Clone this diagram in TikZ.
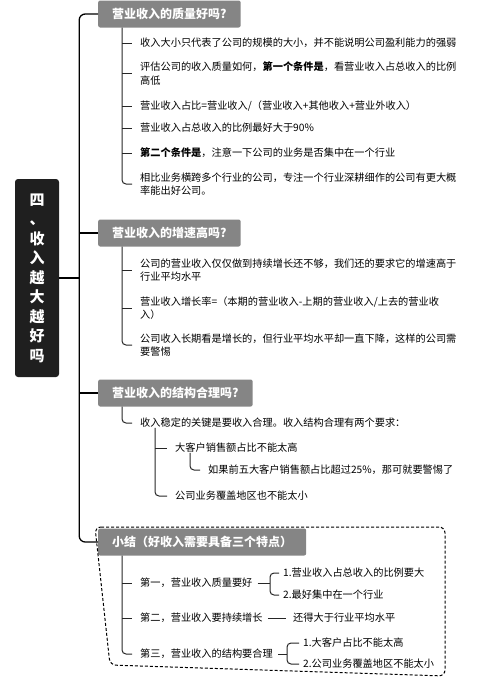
\documentclass[tikz,border=0pt]{standalone}
\usepackage{fontspec}
\setmainfont{Noto Sans CJK SC}
\begin{document}
\begin{tikzpicture}[
    x=1pt, y=-1pt,
    root/.style={
        rectangle,
        rounded corners=3pt,
        fill=black!88,
        text=white,
        minimum width=44pt,
        minimum height=198pt,
        inner sep=0pt,
        align=center,
        font=\fontsize{15}{19.5}\selectfont\bfseries
    },
    topic/.style={
        rectangle,
        rounded corners=2pt,
        fill=black!48,
        text=white,
        anchor=west,
        minimum height=27pt,
        inner xsep=14pt,
        font=\fontsize{12}{14}\selectfont\bfseries
    },
    item/.style={
        anchor=west,
        align=left,
        inner sep=0pt,
        font=\fontsize{10.2}{13.2}\selectfont
    },
    branch/.style={draw=black!85, line width=1pt, rounded corners=4pt},
    trunk/.style={draw=black, line width=1.3pt, rounded corners=6pt}
]
\useasboundingbox (0,0) rectangle (482,680);

% Root
\node[root] (root) at (37, 278) {四\\、\\收\\入\\越\\大\\越\\好\\吗};
\coordinate (hub) at ([xshift=20pt]root.east);

% Topics
\node[topic] (t1) at (98, 14) {营业收入的质量好吗?};
\node[topic] (t2) at (98, 233) {营业收入的增速高吗?};
\node[topic] (t3) at (98, 393) {营业收入的结构合理吗?};
\node[topic] (t4) at (98, 542) {小结（好收入需要具备三个特点）};

\draw[trunk] (root.east) -- (hub);
\draw[trunk] (hub) |- (t1.west);
\draw[trunk] (hub) |- (t4.west);
\draw[trunk] (hub |- t2.west) -- (t2.west);
\draw[trunk] (hub |- t3.west) -- (t3.west);

% Quality
\node[item] (q1) at (140, 43) {收入大小只代表了公司的规模的大小，并不能说明公司盈利能力的强弱};
\node[item] (q2) at (140, 73.5) {评估公司的收入质量如何，\textbf{第一个条件是}，看营业收入占总收入的比例\\高低};
\node[item] (q3) at (140, 106) {营业收入占比=营业收入/（营业收入+其他收入+营业外收入）};
\node[item] (q4) at (140, 128) {营业收入占总收入的比例最好大于90\%};
\node[item] (q5) at (140, 153) {\textbf{第二个条件是}，注意一下公司的业务是否集中在一个行业};
\node[item] (q6) at (140, 184) {相比业务横跨多个行业的公司，专注一个行业深耕细作的公司有更大概\\率能出好公司。};

\coordinate (v1) at ([xshift=24pt]t1.south west);
\draw[branch] (v1) |- ([xshift=-8pt]q6.west);
\foreach \i in {1,...,5} {
    \draw[branch] (v1 |- q\i.west) -- ([xshift=-8pt]q\i.west);
}

% Growth
\node[item] (g1) at (140, 270) {公司的营业收入仅仅做到持续增长还不够，我们还的要求它的增速高于\\行业平均水平};
\node[item] (g2) at (140, 308.5) {营业收入增长率=（本期的营业收入-上期的营业收入/上去的营业收\\入）};
\node[item] (g3) at (140, 345) {公司收入长期看是增长的，但行业平均水平却一直下降，这样的公司需\\要警惕};

\coordinate (v2) at ([xshift=24pt]t2.south west);
\draw[branch] (v2) |- ([xshift=-8pt]g3.west);
\foreach \i in {1,2} {
    \draw[branch] (v2 |- g\i.west) -- ([xshift=-8pt]g\i.west);
}

% Structure
\node[item] (s1) at (140, 423) {收入稳定的关键是要收入合理。收入结构合理有两个要求：};
\node[item] (s2) at (175, 448) {大客户销售额占比不能太高};
\node[item] (s3) at (208, 470) {如果前五大客户销售额占比超过25\%，那可就要警惕了};
\node[item] (s4) at (175, 496) {公司业务覆盖地区也不能太小};

\coordinate (v3) at ([xshift=24pt]t3.south west);
\draw[branch] (v3) |- ([xshift=-8pt]s1.west);
\coordinate (v4) at ([xshift=15pt]s1.south west);
\draw[branch] (v4) |- ([xshift=-8pt]s4.west);
\draw[branch] (v4 |- s2.west) -- ([xshift=-8pt]s2.west);
\coordinate (v5) at ([xshift=15pt]s2.south west);
\draw[branch] (v5) |- ([xshift=-8pt]s3.west);

% Summary
\draw[line width=1pt, dash pattern=on 3pt off 2pt, rounded corners=6pt]
    (95, 527) -- (445, 527) -- (445, 676) -- (110, 665) -- cycle;

\node[item] (m1) at (140, 583) {第一，营业收入质量要好};
\node[item] (m2) at (140, 618) {第二，营业收入要持续增长};
\node[item] (m3) at (140, 654) {第三，营业收入的结构要合理};
\node[item] (n1) at (283, 573) {1.营业收入占总收入的比例要大};
\node[item] (n2) at (283, 595) {2.最好集中在一个行业};
\node[item] (n3) at (293, 618) {还得大于行业平均水平};
\node[item] (n4) at (303, 643) {1.大客户占比不能太高};
\node[item] (n5) at (303, 664) {2.公司业务覆盖地区不能太小};

\coordinate (v6) at ([xshift=24pt]t4.south west);
\draw[branch] (v6) |- ([xshift=-8pt]m3.west);
\foreach \i in {1,2} {
    \draw[branch] (v6 |- m\i.west) -- ([xshift=-8pt]m\i.west);
}

\coordinate (k1) at ([xshift=-13pt]n1.west |- m1.east);
\draw[branch] ([xshift=5pt]m1.east) -- (k1);
\draw[branch] ([xshift=-4pt]n1.west) -| (k1) |- ([xshift=-4pt]n2.west);
\draw[branch] ([xshift=5pt]m2.east) -- ([xshift=-7pt]n3.west);
\coordinate (k2) at ([xshift=-16pt]n4.west |- m3.east);
\draw[branch] ([xshift=5pt]m3.east) -- (k2);
\draw[branch] ([xshift=-4pt]n4.west) -| (k2) |- ([xshift=-4pt]n5.west);

\end{tikzpicture}
\end{document}
